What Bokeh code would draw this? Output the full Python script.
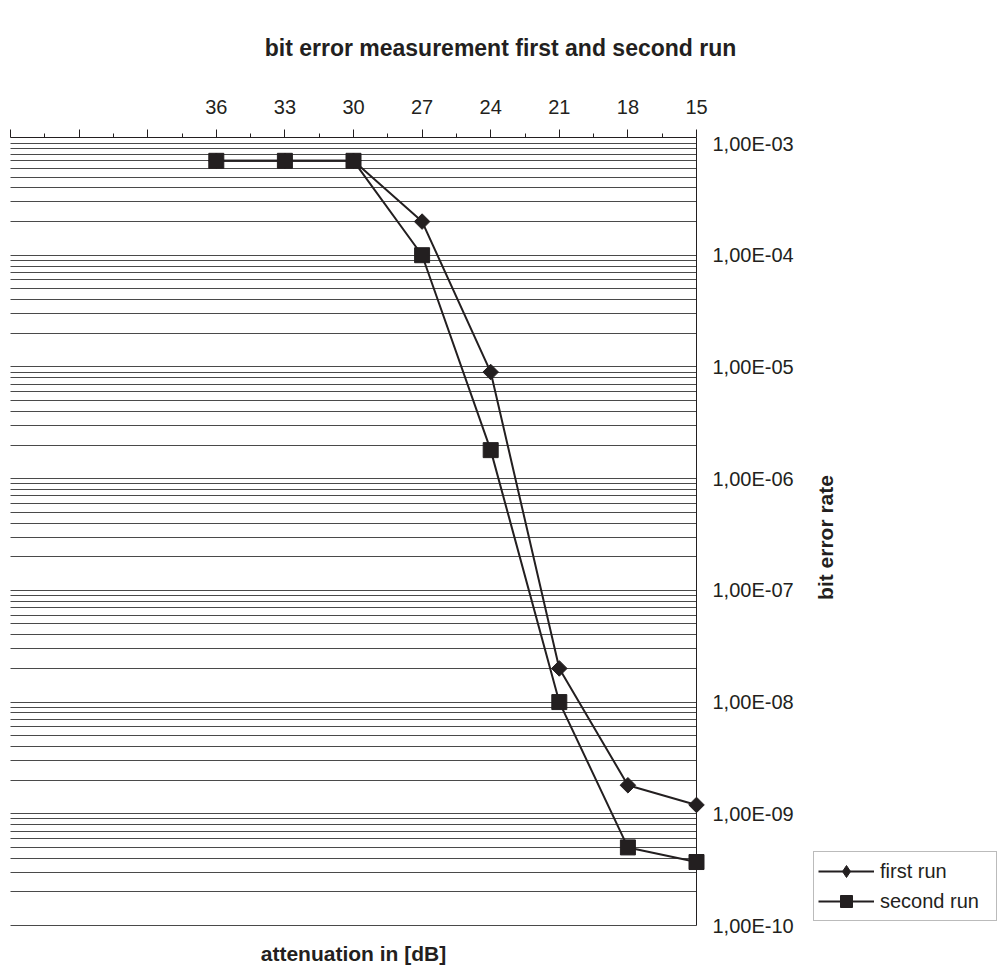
import math
from bokeh.plotting import figure
from bokeh.models import (Range1d, FixedTicker, CustomJSTickFormatter, Legend, LegendItem,
                          Label, Grid)
from bokeh.embed import file_html
from bokeh.resources import INLINE

# ---- data ----
attenuation = [36, 33, 30, 27, 24, 21, 18, 15]
first_run = [7e-4, 7e-4, 7e-4, 2e-4, 9e-6, 2e-8, 1.8e-9, 1.2e-9]
second_run = [7e-4, 7e-4, 7e-4, 1e-4, 1.8e-6, 1e-8, 5e-10, 3.7e-10]
x_major_ticks = [45, 42, 39, 36, 33, 30, 27, 24, 21, 18, 15]
x_minor_ticks = [43.5, 40.5, 37.5, 34.5, 31.5, 28.5, 25.5, 22.5, 19.5, 16.5]
x_axis_span = (45, 15)
y_decades = [-10, -9, -8, -7, -6, -5, -4, -3]

title_text = "bit error measurement first and second run"
x_label_text = "attenuation in [dB]"
y_label_text = "bit error rate"
series_names = ["first run", "second run"]

FONT = "Liberation Sans"
INK = "#231f20"

# ---- layout (pixels) ----
W, H = 1000, 975
AREA_LEFT, AREA_RIGHT = 10, 696          # x = 45 ... x = 15
DEC_TOP, DEC_BOTTOM = 143, 925           # y = 1e-3 ... y = 1e-10
AXIS_TOP = 137                           # top axis line
PX_UNIT = (AREA_RIGHT - AREA_LEFT) / (x_axis_span[0] - x_axis_span[1])
PX_DEC = (DEC_BOTTOM - DEC_TOP) / (y_decades[-1] - y_decades[0])

x_start = x_axis_span[0] + AREA_LEFT / PX_UNIT
x_end = x_axis_span[1] - (W - AREA_RIGHT) / PX_UNIT
y_end = 10 ** (y_decades[-1] + DEC_TOP / PX_DEC)
y_start = 10 ** (y_decades[0] - (H - DEC_BOTTOM) / PX_DEC)
y_axis_top = 10 ** (y_decades[-1] + (DEC_TOP - AXIS_TOP) / PX_DEC)
y_axis_bottom = 10.0 ** y_decades[0]

p = figure(width=W, height=H, title=None,
           x_range=Range1d(x_start, x_end), y_range=Range1d(y_start, y_end),
           y_axis_type="log", x_axis_location="above", y_axis_location="right",
           min_border_left=0, min_border_right=0, min_border_top=0, min_border_bottom=0,
           output_backend="svg", toolbar_location=None)
p.outline_line_color = None
p.background_fill_color = "white"
p.border_fill_color = "white"

# grid
grid_vals = []
for d in y_decades[:-1]:
    for k in range(1, 10):
        grid_vals.append(k * 10.0 ** d)
grid_vals.append(10.0 ** y_decades[-1])
p.xgrid.visible = False
if "cross_bounds" in Grid.properties():
    p.ygrid.ticker = FixedTicker(ticks=grid_vals, minor_ticks=[])
    p.ygrid.grid_line_color = "#4a4a4a"
    p.ygrid.grid_line_width = 1
    p.ygrid.cross_bounds = (min(x_axis_span), max(x_axis_span))
else:
    p.ygrid.visible = False
    p.segment(x0=[x_axis_span[0]] * len(grid_vals), y0=grid_vals,
              x1=[x_axis_span[1]] * len(grid_vals), y1=grid_vals,
              line_color="#4a4a4a", line_width=1)

# x axis (top of the data area)
xa = p.xaxis[0]
xa.fixed_location = y_axis_top
xa.bounds = (min(x_axis_span), max(x_axis_span))
xa.ticker = FixedTicker(ticks=x_major_ticks, minor_ticks=x_minor_ticks)
xa.formatter = CustomJSTickFormatter(code="return tick <= 36 ? String(tick) : '';")
xa.major_tick_out = 8
xa.major_tick_in = 0
xa.minor_tick_out = 4
xa.minor_tick_in = 0
xa.axis_line_color = INK
xa.major_tick_line_color = INK
xa.minor_tick_line_color = INK
xa.major_label_text_font = FONT
xa.major_label_text_font_size = "20px"
xa.major_label_text_color = INK
xa.major_label_standoff = 16

# y axis (right side of the data area, at x = 15)
ya = p.yaxis[0]
ya.fixed_location = x_axis_span[1]
ya.bounds = (y_axis_bottom, y_axis_top)
ya.ticker = FixedTicker(ticks=[10.0 ** d for d in y_decades], minor_ticks=[])
ya.formatter = CustomJSTickFormatter(
    code="var e = -Math.round(Math.log10(tick)); return '1,00E-' + (e < 10 ? '0' + e : String(e));")
ya.major_tick_out = 0
ya.major_tick_in = 0
ya.minor_tick_out = 0
ya.minor_tick_in = 0
ya.axis_line_color = INK
ya.major_label_text_font = FONT
ya.major_label_text_font_size = "20px"
ya.major_label_text_color = INK
ya.major_label_standoff = 16

# texts (screen units measured from the bottom-left corner)
p.add_layout(Label(x=500, y=H - 47, x_units="screen", y_units="screen", text=title_text,
                   text_align="center", text_baseline="middle", text_font=FONT,
                   text_font_size="23px", text_font_style="bold", text_color=INK))
p.add_layout(Label(x=353, y=H - 953, x_units="screen", y_units="screen", text=x_label_text,
                   text_align="center", text_baseline="middle", text_font=FONT,
                   text_font_size="21px", text_font_style="bold", text_color=INK))
p.add_layout(Label(x=825, y=H - 537, x_units="screen", y_units="screen", text=y_label_text,
                   angle=math.pi / 2, text_align="center", text_baseline="middle",
                   text_font=FONT, text_font_size="21px", text_font_style="bold",
                   text_color=INK))

# series
l1 = p.line(attenuation, first_run, line_color=INK, line_width=2)
d1 = p.scatter(attenuation, first_run, marker="diamond", size=9,
               fill_color=INK, line_color=INK)   # covered by s1; gives the legend a diamond
s1 = p.scatter(attenuation, first_run, marker="square", angle=math.pi / 4, size=11,
               fill_color=INK, line_color=INK)
l2 = p.line(attenuation, second_run, line_color=INK, line_width=2)
s2 = p.scatter(attenuation, second_run, marker="square", size=15,
               fill_color=INK, line_color=INK)

legend = Legend(items=[LegendItem(label=series_names[0], renderers=[l1, d1]),
                       LegendItem(label=series_names[1], renderers=[l2, s2])],
                location=(813, H - 921), border_line_color="#777777", border_line_width=1,
                background_fill_color="white", background_fill_alpha=1.0,
                label_text_font=FONT, label_text_font_size="20px", label_text_color=INK,
                glyph_width=56, glyph_height=30, label_height=30, spacing=0, padding=4,
                margin=0, label_standoff=6, label_width=112)
p.add_layout(legend, "center")

open("out.html", "w").write(file_html(p, INLINE))
